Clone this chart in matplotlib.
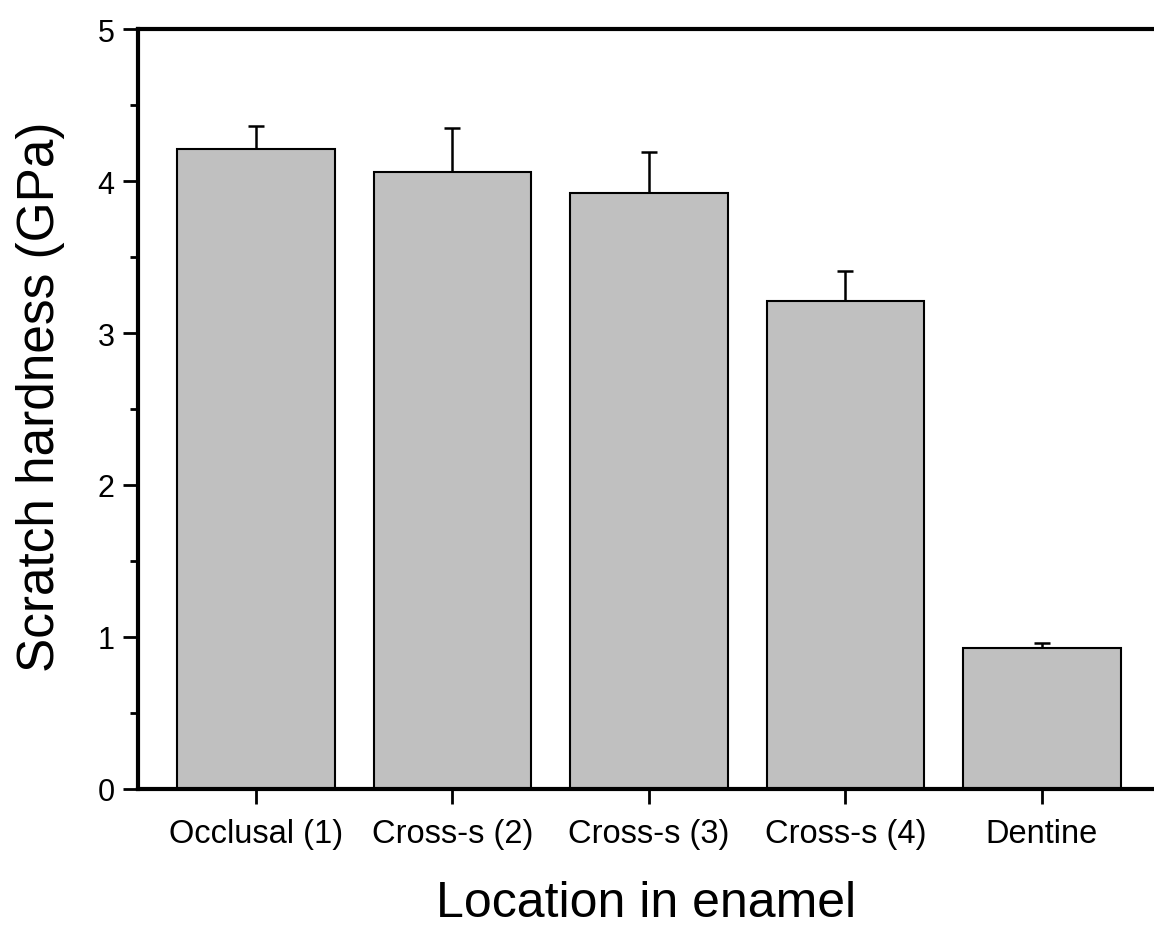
import matplotlib.pyplot as plt
import numpy as np
from matplotlib.ticker import MultipleLocator

locations = ['Occlusal (1)', 'Cross-s (2)', 'Cross-s (3)', 'Cross-s (4)', 'Dentine']
hardness = [4.21, 4.06, 3.92, 3.21, 0.93]
errors = [0.15, 0.29, 0.27, 0.20, 0.03]

plt.rcParams['font.family'] = ['Liberation Sans', 'DejaVu Sans']

fig = plt.figure(figsize=(11.54, 9.29), dpi=100)
ax = fig.add_axes([138/1154, 1 - 790/929, 1 - 138/1154, 760/929])

x = np.arange(len(locations))
ax.bar(x, hardness, width=0.8, color='#c0c0c0', edgecolor='black', linewidth=1.5, zorder=2)
ax.errorbar(x, hardness, yerr=[np.zeros(len(errors)), errors], fmt='none',
            ecolor='black', elinewidth=1.8, capsize=6, capthick=1.8, zorder=1)

ax.set_xlim(-0.6, 4.57)
ax.set_ylim(0, 5)
ax.set_xticks(x)
ax.set_xticklabels(locations, fontsize=23.5)
ax.yaxis.set_major_locator(MultipleLocator(1))
ax.yaxis.set_minor_locator(MultipleLocator(0.5))
ax.tick_params(axis='y', which='major', width=2, length=11, pad=6)
ax.tick_params(axis='y', which='minor', width=2, length=6)
ax.tick_params(axis='x', width=2, length=11, pad=10)
for lab in ax.get_yticklabels():
    lab.set_fontsize(22)

for s in ['left', 'bottom', 'top']:
    ax.spines[s].set_linewidth(3)
ax.spines['right'].set_visible(False)

ax.set_xlabel('Location in enamel', fontsize=36, labelpad=22)
ax.set_ylabel('Scratch hardness (GPa)', fontsize=37)
ax.yaxis.set_label_coords(-0.072, 0.518)

fig.savefig('out.png', dpi=100)
